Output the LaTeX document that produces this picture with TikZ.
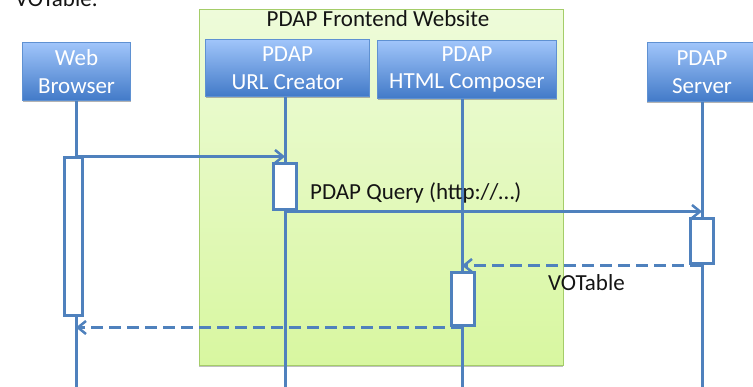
\documentclass[tikz,border=0pt]{standalone}
\usepackage{fontspec}
\setmainfont{Carlito}
\usetikzlibrary{arrows.meta,shadows}
\definecolor{lineblue}{RGB}{79,129,189}
\definecolor{boxtop}{RGB}{160,197,250}
\definecolor{boxbot}{RGB}{66,122,200}
\definecolor{boxedge}{RGB}{95,145,210}
\definecolor{greentop}{RGB}{238,251,218}
\definecolor{greenbot}{RGB}{216,247,160}
\definecolor{greenedge}{RGB}{165,205,105}
\definecolor{labeltext}{RGB}{20,20,20}
\begin{document}
\begin{tikzpicture}[x=1pt,y=-1pt,
  font=\fontsize{23}{27.5}\selectfont,
  actor/.style={draw=boxedge, line width=0.8pt, top color=boxtop, bottom color=boxbot,
    text=white, align=center, inner sep=0pt,
    drop shadow={shadow xshift=0pt, shadow yshift=-2pt, fill=black!50, opacity=0.6}},
  frontend/.style={draw=greenedge, line width=0.8pt, top color=greentop, bottom color=greenbot,
    inner sep=0pt,
    drop shadow={shadow xshift=0pt, shadow yshift=-2pt, fill=black!50, opacity=0.5}},
  life/.style={draw=lineblue, line width=3pt},
  act/.style={draw=lineblue, line width=3pt, fill=white, inner sep=0pt},
  msg/.style={draw=lineblue, line width=3pt, -{Straight Barb[length=8pt,width=13pt,line width=2.5pt]}},
  reply/.style={msg, dash pattern=on 12pt off 6pt},
  lbl/.style={text=labeltext, inner sep=0pt}]
\useasboundingbox (0,0) rectangle (753,387);
\clip (0,0) rectangle (753,387);

% frontend container
\node[frontend, minimum width=364pt, minimum height=356pt] (fe) at (381,187.5) {};
\node[lbl, anchor=base] (hdr) at (378,27) {PDAP Frontend Website};

% top text remnant
\node[lbl, anchor=base west] (top) at (15,7) {VOTable.};

% actors
\node[actor, minimum width=108pt, minimum height=58pt] (web) at (76.5,71.5) {Web\\Browser};
\node[actor, minimum width=164pt, minimum height=57pt] (url) at (287.5,68) {PDAP\\URL Creator};
\node[actor, minimum width=179pt, minimum height=58pt] (html) at (467,69.5) {PDAP\\HTML Composer};
\node[actor, minimum width=110pt, minimum height=59pt] (srv) at (702,72) {PDAP\\Server};

% lifeline ends
\coordinate (webend) at (76,392);
\coordinate (urlend) at (285,392);
\coordinate (htmlend) at (462,392);
\coordinate (srvend) at (702,392);

% lifelines
\draw[life] ([xshift=-0.5pt]web.south) -- (webend);
\draw[life] ([xshift=-2.5pt]url.south) -- (urlend);
\draw[life] ([xshift=-5pt]html.south) -- (htmlend);
\draw[life] (srv.south) -- (srvend);

% activation boxes (positions)
\node[act, minimum width=18pt, minimum height=158pt] (aweb) at (73.5,237) {};
\node[act, minimum width=23pt, minimum height=46pt] (aurl) at (284.5,187) {};
\node[act, minimum width=23pt, minimum height=45pt] (asrv) at (701.5,241.5) {};
\node[act, minimum width=23pt, minimum height=53pt] (ahtml) at (462.5,299.5) {};

% messages
\draw[msg] ([xshift=2.5pt]aweb.north) -- (aweb.north -| urlend);
\draw[msg] (aurl.south) -- (aurl.south -| srvend);
\draw[reply] (asrv.south) -- (asrv.south -| htmlend);
\draw[reply] (ahtml.south) -- (ahtml.south -| webend);

% redraw activation boxes on top
\node[act, minimum width=18pt, minimum height=158pt] at (aweb) {};
\node[act, minimum width=23pt, minimum height=46pt] at (aurl) {};
\node[act, minimum width=23pt, minimum height=45pt] at (asrv) {};
\node[act, minimum width=23pt, minimum height=53pt] at (ahtml) {};

% labels
\node[lbl, anchor=base west] (lq) at (310,200) {PDAP Query (http://…)};
\node[lbl, anchor=base west] (lv) at (548,291) {VOTable};
\end{tikzpicture}
\end{document}
